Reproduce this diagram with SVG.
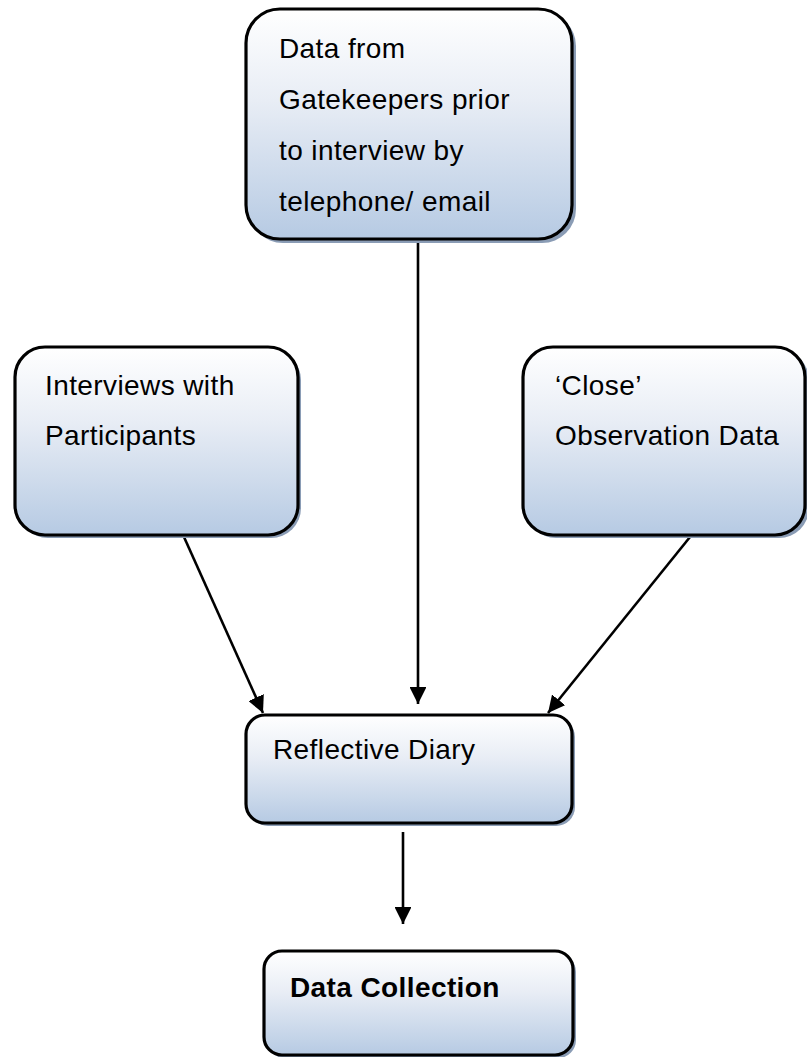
<svg xmlns="http://www.w3.org/2000/svg" width="807" height="1057" viewBox="0 0 807 1057">
  <style>
    .box { fill: url(#boxFill); stroke: #000; stroke-width: 3.2; }
    .shadow { fill: #8a9cb5; }
    .label { font-family: "Liberation Sans", Arial, sans-serif; font-size: 28px; letter-spacing: 0.4px; fill: #000; }
    .bold { font-weight: bold; }
    .conn { stroke: #000; stroke-width: 2.6; fill: none; marker-end: url(#arrow); }
  </style>
  <defs>
    <linearGradient id="boxFill" x1="0" y1="0" x2="0" y2="1">
      <stop offset="0" stop-color="#ffffff"/>
      <stop offset="0.4" stop-color="#e8edf5"/>
      <stop offset="1" stop-color="#b6cae3"/>
    </linearGradient>
    <marker id="arrow" viewBox="0 0 10 10" refX="10" refY="5" markerWidth="6.5" markerHeight="6.5" orient="auto" markerUnits="strokeWidth">
      <path d="M0,0 L10,5 L0,10 Z" fill="#000"/>
    </marker>
  </defs>

  <rect width="807" height="1057" fill="#fff"/>

  <g id="connectors">
    <line class="conn" x1="418" y1="240" x2="418" y2="704"/>
    <line class="conn" x1="184" y1="537" x2="263" y2="713"/>
    <line class="conn" x1="690" y1="537" x2="548" y2="713"/>
    <line class="conn" x1="403" y1="832" x2="403" y2="924"/>
  </g>

  <g id="node-gatekeepers">
    <rect class="shadow" x="249" y="12" width="327" height="231" rx="34"/>
    <rect class="box" x="246" y="9" width="326" height="230" rx="34"/>
    <text class="label" x="279" y="58">Data from</text>
    <text class="label" x="279" y="109">Gatekeepers prior</text>
    <text class="label" x="279" y="160">to interview by</text>
    <text class="label" x="279" y="211">telephone/ email</text>
  </g>

  <g id="node-interviews">
    <rect class="shadow" x="18" y="350" width="283" height="188" rx="30"/>
    <rect class="box" x="15" y="347" width="283" height="188" rx="30"/>
    <text class="label" x="45" y="395">Interviews with</text>
    <text class="label" x="45" y="445">Participants</text>
  </g>

  <g id="node-observation">
    <rect class="shadow" x="526" y="350" width="283" height="188" rx="30"/>
    <rect class="box" x="523" y="347" width="282" height="188" rx="30"/>
    <text class="label" x="555" y="395">‘Close’</text>
    <text class="label" x="555" y="445">Observation Data</text>
  </g>

  <g id="node-diary">
    <rect class="shadow" x="249" y="718" width="326" height="108" rx="19"/>
    <rect class="box" x="246" y="715" width="326" height="108" rx="19"/>
    <text class="label" x="273" y="759">Reflective Diary</text>
  </g>

  <g id="node-collection">
    <rect class="shadow" x="267" y="954" width="309" height="104" rx="18"/>
    <rect class="box" x="264" y="951" width="309" height="104" rx="18"/>
    <text class="label bold" x="290" y="997">Data Collection</text>
  </g>
</svg>
